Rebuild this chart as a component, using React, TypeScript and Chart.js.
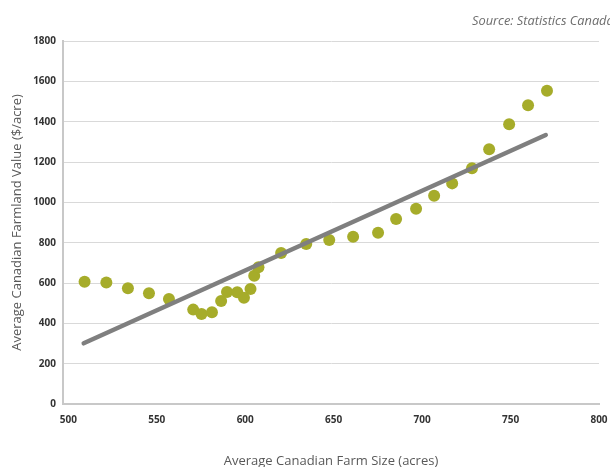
import React, { useEffect, useRef } from "react";
import { Chart, registerables } from "chart.js";

Chart.register(...registerables);

const farmSize = [509.2, 521.5, 533.7, 545.6, 556.9, 570.6, 575.3, 581.2, 586.4, 589.7, 595.5, 599.3, 603, 605.1, 607.5, 620.3, 634.5, 647.5, 661, 675.1, 685.3, 696.6, 706.8, 717, 728.2, 737.9, 749.2, 759.9, 770.6];
const farmValue = [606, 603, 574, 549, 521, 468, 446, 455, 511, 555, 554, 527, 570, 636, 678, 749, 793, 813, 829, 849, 917, 968, 1033, 1094, 1169, 1263, 1387, 1481, 1553];
const trendX = [508.7, 769.9];
const trendY = [301, 1334];
const xTicks = [500, 550, 600, 650, 700, 750, 800];

const xTitle = "Average Canadian Farm Size (acres)";
const yTitle = "Average Canadian Farmland Value ($/acre)";
const sourceText = "Source: Statistics Canada";

export default function App() {
  const ref = useRef<HTMLCanvasElement | null>(null);
  useEffect(() => {
    document.body.style.margin = "0";
    if (!ref.current) return;
    const font = "'Open Sans', 'Noto Sans', sans-serif";
    const chart = new Chart(ref.current, {
      type: "scatter",
      data: {
        datasets: [
          {
            label: "Trend",
            data: trendX.map((x, i) => ({ x, y: trendY[i] })),
            showLine: true,
            borderColor: "#7f7f7f",
            borderWidth: 4.5,
            borderCapStyle: "round",
            pointRadius: 0,
            order: 0,
          },
          {
            label: "Farmland",
            data: farmSize.map((x, i) => ({ x, y: farmValue[i] })),
            backgroundColor: "#a6ac2a",
            borderWidth: 0,
            pointRadius: 6,
            order: 1,
          },
        ],
      },
      options: {
        animation: false,
        responsive: false,
        layout: { padding: { left: 0, right: 11, top: 41, bottom: 0 } },
        plugins: { legend: { display: false }, tooltip: { enabled: false } },
        scales: {
          x: {
            type: "linear",
            min: 497,
            max: 800,
            afterBuildTicks: (s: any) => { s.ticks = xTicks.map((v) => ({ value: v })); },
            ticks: {
              padding: 10,
              color: "#333",
              font: { family: font, size: 10, weight: "bold" },
              callback: (v: any) => String(v),
            },
            grid: { display: false, drawTicks: false },
            border: { display: true, color: "#c8c8c8", width: 2 },
            title: { display: true, text: xTitle, color: "#595959", font: { family: font, size: 13 }, padding: { top: 0, bottom: -2 } },
            afterFit: (s: any) => { s.height = 63; s.paddingLeft = 0; s.paddingRight = 0; },
          },
          y: {
            min: 0,
            max: 1800,
            ticks: { stepSize: 200, padding: 7, color: "#333", font: { family: font, size: 10, weight: "bold" }, callback: (v: any) => String(v) },
            grid: { color: "#d9d9d9", lineWidth: 1, drawTicks: false },
            border: { display: true, color: "#c8c8c8", width: 2 },
            title: { display: true, text: yTitle, color: "#595959", font: { family: font, size: 13 }, padding: { top: 9, bottom: 0 } },
            afterFit: (s: any) => { s.width = 63; s.paddingTop = 0; s.paddingBottom = 0; },
          },
        },
      },
    });
    return () => chart.destroy();
  }, []);
  return (
    <div style={{ position: "relative", width: 610, height: 467, overflow: "hidden", background: "#fff" }}>
      <canvas ref={ref} width={610} height={467} style={{ display: "block" }} />
      <div style={{ position: "absolute", left: 472, top: 11, whiteSpace: "nowrap", fontFamily: "'Open Sans', sans-serif", fontStyle: "italic", fontSize: 12.8, color: "#6d6d6d" }}>{sourceText}</div>
    </div>
  );
}
